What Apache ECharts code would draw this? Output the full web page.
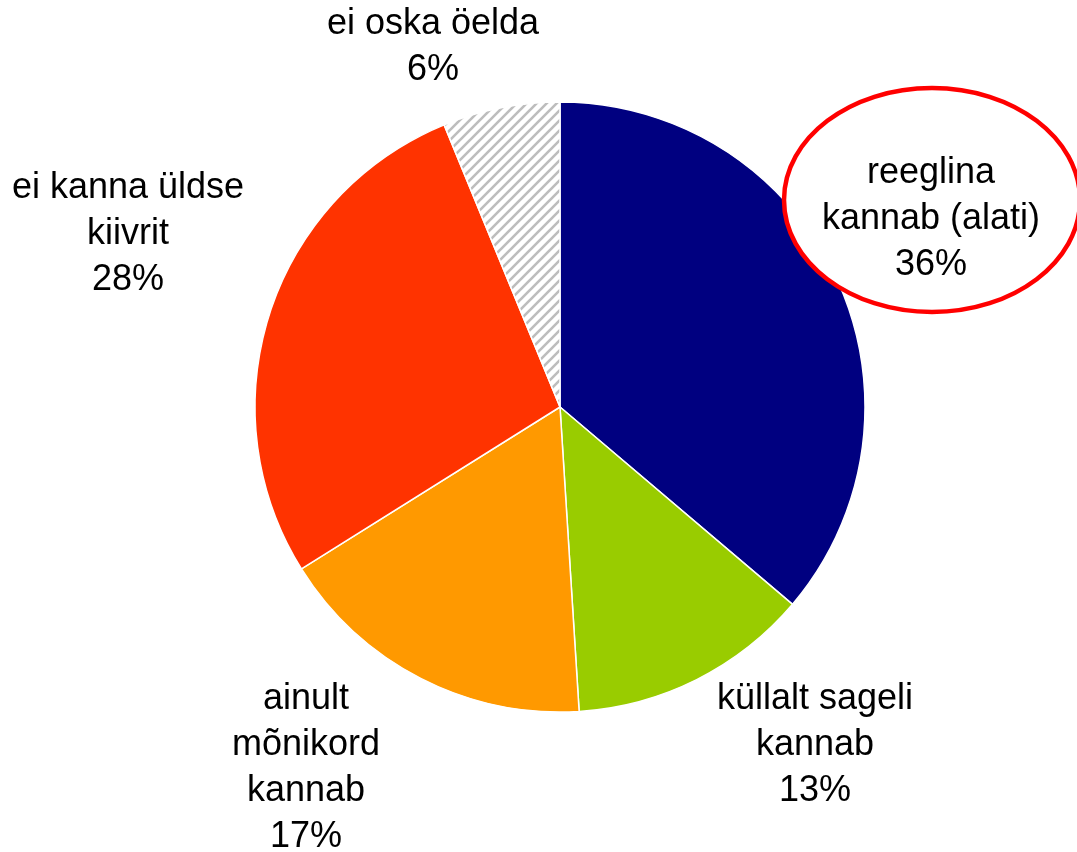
<!DOCTYPE html>
<html>
<head>
<meta charset="utf-8">
<script src="https://cdn.jsdelivr.net/npm/echarts@6/dist/echarts.min.js"></script>
<style>
html,body{margin:0;padding:0;background:#fff}
#chart{width:1077px;height:852px}
</style>
</head>
<body>
<div id="chart"></div>
<script>
//andmed
var categories = ['reeglina\nkannab (alati)', 'küllalt sageli\nkannab', 'ainult\nmõnikord\nkannab', 'ei kanna üldse\nkiivrit', 'ei oska öelda'];
var values = [36.2, 12.8, 17.1, 27.7, 6.2];
var colors = ['#000080', '#99CC00', '#FF9900', '#FF3300', 'hatch'];
//siltide keskpunktid
var labelPos = [[931, 219], [815, 745], [306, 768], [128, 234], [433, 47]];

//viirutatud muster
function hatch(){
	var c = document.createElement('canvas');
	c.width = 10; c.height = 10;
	var g = c.getContext('2d');
	g.fillStyle = '#fff';
	g.fillRect(0, 0, 10, 10);
	g.strokeStyle = '#bdbdbd';
	g.lineWidth = 2.6;
	g.beginPath();
	g.moveTo(-2, 12); g.lineTo(12, -2);
	g.moveTo(-2, 2); g.lineTo(2, -2);
	g.moveTo(8, 12); g.lineTo(12, 8);
	g.stroke();
	return c;
}

var pieData = categories.map(function(name, i){
	var col = colors[i] == 'hatch' ? {image: hatch(), repeat: 'repeat'} : colors[i];
	return {name: name, value: values[i], itemStyle: {color: col}};
});
var labelData = categories.map(function(name, i){
	return {name: name, value: values[i]};
});

var myChart = echarts.init(document.getElementById('chart'));
option = {
	animation: false,
	backgroundColor: '#fff',
	graphic: [{
		type: 'ellipse',
		z: 5,
		shape: {cx: 932, cy: 200, rx: 148, ry: 112},
		style: {fill: '#fff', stroke: '#ff0000', lineWidth: 4.5}
	}],
	series: [{
		type: 'pie',
		z: 2,
		center: [560, 407],
		radius: 305,
		startAngle: 90,
		clockwise: true,
		silent: true,
		label: {show: false},
		labelLine: {show: false},
		itemStyle: {borderColor: '#fff', borderWidth: 1.5},
		data: pieData
	}, {
		type: 'pie',
		z: 10,
		center: [560, 407],
		radius: 305,
		startAngle: 90,
		silent: true,
		itemStyle: {color: 'rgba(0,0,0,0)'},
		label: {
			show: true,
			formatter: function(p){ return p.name + '\n' + Math.round(p.value) + '%'; },
			fontFamily: 'Liberation Sans, Arial, sans-serif',
			fontSize: 36,
			lineHeight: 46,
			color: '#000',
			align: 'center',
			overflow: 'none',
			width: 400
		},
		labelLine: {show: false},
		labelLayout: function(p){
			var pos = labelPos[p.dataIndex];
			return {x: pos[0], y: pos[1], align: 'center', verticalAlign: 'middle'};
		},
		data: labelData
	}]
};
myChart.setOption(option);
</script>
</body>
</html>
